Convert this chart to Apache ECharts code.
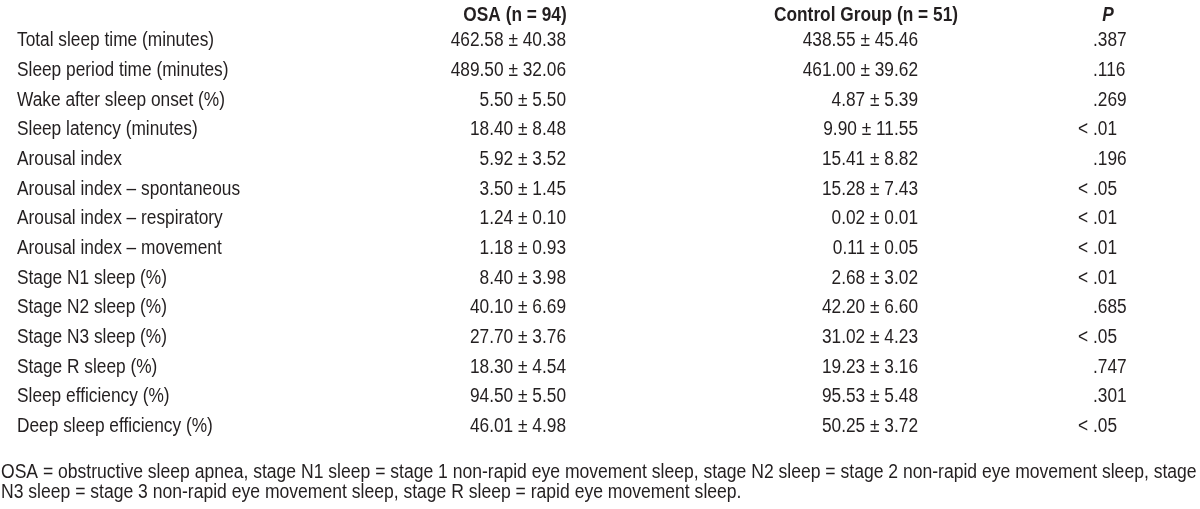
<!DOCTYPE html>
<html>
<head>
<meta charset="utf-8">
<script src="https://cdn.jsdelivr.net/npm/echarts@6/dist/echarts.min.js"></script>
<style>html,body{margin:0;padding:0;background:#fff;}#c{width:1200px;height:509px;}</style>
</head>
<body>
<div id="c"></div>
<script>
var rowLabels = ["Total sleep time (minutes)", "Sleep period time (minutes)", "Wake after sleep onset (%)", "Sleep latency (minutes)", "Arousal index", "Arousal index \u2013 spontaneous", "Arousal index \u2013 respiratory", "Arousal index \u2013 movement", "Stage N1 sleep (%)", "Stage N2 sleep (%)", "Stage N3 sleep (%)", "Stage R sleep (%)", "Sleep efficiency (%)", "Deep sleep efficiency (%)"];
var osaMean = [462.58, 489.50, 5.50, 18.40, 5.92, 3.50, 1.24, 1.18, 8.40, 40.10, 27.70, 18.30, 94.50, 46.01];
var osaSD = [40.38, 32.06, 5.50, 8.48, 3.52, 1.45, 0.10, 0.93, 3.98, 6.69, 3.76, 4.54, 5.50, 4.98];
var ctlMean = [438.55, 461.00, 4.87, 9.90, 15.41, 15.28, 0.02, 0.11, 2.68, 42.20, 31.02, 19.23, 95.53, 50.25];
var ctlSD = [45.46, 39.62, 5.39, 11.55, 8.82, 7.43, 0.01, 0.05, 3.02, 6.60, 4.23, 3.16, 5.48, 3.72];
var pValues = [".387", ".116", ".269", "< .01", ".196", "< .05", "< .01", "< .01", "< .01", ".685", "< .05", ".747", ".301", "< .05"];
var headers = ["OSA (n = 94)", "Control Group (n = 51)", "P"];
var footnote = ["OSA = obstructive sleep apnea, stage N1 sleep = stage 1 non-rapid eye movement sleep, stage N2 sleep = stage 2 non-rapid eye movement sleep, stage", "N3 sleep = stage 3 non-rapid eye movement sleep, stage R sleep = rapid eye movement sleep."];

var FONT = "'Liberation Sans', Arial, sans-serif";
var FS = 19.5;
var SX = 0.887;
var INK = '#231f20';

function textSeries(xPos, texts, align) {
  return {
    type: 'custom',
    coordinateSystem: 'cartesian2d',
    silent: true,
    encode: { x: 0, y: 1 },
    data: texts.map(function (t, i) { return [xPos, i]; }),
    renderItem: function (params, api) {
      var pt = api.coord([api.value(0), api.value(1)]);
      return {
        type: 'text',
        x: pt[0],
        y: pt[1],
        scaleX: SX,
        style: {
          text: texts[params.dataIndex],
          align: align,
          verticalAlign: 'middle',
          fill: INK,
          fontFamily: FONT,
          fontSize: FS
        }
      };
    }
  };
}

var osaText = osaMean.map(function (m, i) { return m.toFixed(2) + ' \u00b1 ' + osaSD[i].toFixed(2); });
var ctlText = ctlMean.map(function (m, i) { return m.toFixed(2) + ' \u00b1 ' + ctlSD[i].toFixed(2); });
var pLess = pValues.map(function (p) { return p.indexOf('<') === 0 ? '<' : ''; });
var pNum = pValues.map(function (p) { return p.replace('<', '').trim(); });

function gText(txt, x, y, align, weight, style, sx) {
  return { type: 'text', x: x, y: y, scaleX: sx || SX, silent: true,
    style: { text: txt, align: align, verticalAlign: 'middle', fill: INK, fontFamily: FONT, fontSize: FS, fontWeight: weight || 'normal', fontStyle: style || 'normal' } };
}

var chart = echarts.init(document.getElementById('c'), null, { renderer: 'canvas' });
chart.setOption({
  animation: false,
  backgroundColor: '#fff',
  grid: { left: 0, right: 0, top: 26.2, bottom: 67.7 },
  xAxis: { type: 'value', min: 0, max: 1200, show: false },
  yAxis: { type: 'category', data: rowLabels, inverse: true, show: false },
  series: [
    textSeries(17, rowLabels, 'left'),
    textSeries(566, osaText, 'right'),
    textSeries(918, ctlText, 'right'),
    textSeries(1088, pLess, 'right'),
    textSeries(1093, pNum, 'left')
  ],
  graphic: [
    gText(headers[0], 515, 16, 'center', 'bold'),
    gText(headers[1], 866, 16, 'center', 'bold'),
    gText(headers[2], 1108, 16, 'center', 'bold', 'italic'),
    gText(footnote[0], 1, 472.5, 'left', null, null, 0.9),
    gText(footnote[1], 1, 493, 'left', null, null, 0.9)
  ]
});
</script>
</body>
</html>
